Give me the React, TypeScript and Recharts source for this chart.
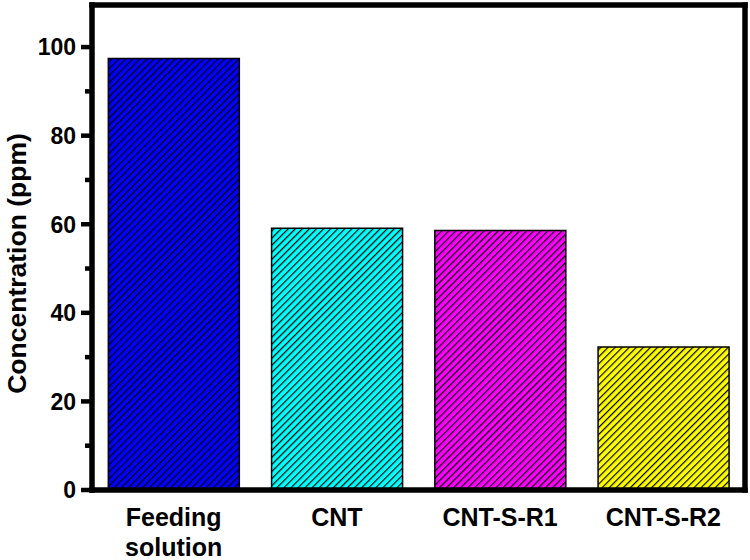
import React from "react";
import { Bar, BarChart, Cell, XAxis, YAxis } from "recharts";

const categories = ["Feeding\nsolution", "CNT", "CNT-S-R1", "CNT-S-R2"];
const concentrations = [97.4, 59.1, 58.6, 32.3];
const barColors = ["#0000ff", "#00ffff", "#ff00ff", "#ffff00"];
const yTicks = [0, 10, 20, 30, 40, 50, 60, 70, 80, 90, 100];

const data = categories.map((name, i) => ({ name, value: concentrations[i] }));

const FONT = '"Liberation Sans", Arial, Helvetica, sans-serif';
const frameLine = { stroke: "#000", strokeWidth: 5.5, strokeLinecap: "square" as const };

function XTick({ x, y, payload }: any) {
  const lines = String(payload.value).split("\n");
  return (
    <text
      x={x}
      y={y + 36}
      textAnchor="middle"
      fontFamily={FONT}
      fontWeight="bold"
      fontSize={25}
      fill="#000"
      stroke="none"
    >
      {lines.map((l, i) => (
        <tspan key={i} x={x} dy={i === 0 ? 0 : 30}>
          {l}
        </tspan>
      ))}
    </text>
  );
}

function YTick({ x, y, payload }: any) {
  const major = payload.value % 20 === 0;
  return (
    <g>
      <line x1={x - (major ? 11 : 7)} x2={x} y1={y} y2={y} stroke="#000" strokeWidth={4.5} />
      {major && (
        <text
          x={x - 16}
          y={y}
          dy="0.36em"
          textAnchor="end"
          fontFamily={FONT}
          fontWeight="bold"
          fontSize={23}
          fill="#000"
          stroke="none"
        >
          {payload.value}
        </text>
      )}
    </g>
  );
}

export default function App() {
  return (
    <div style={{ position: "absolute", left: 0, top: 0, width: 750, height: 560, background: "#fff" }}>
      <BarChart
        width={750}
        height={560}
        data={data}
        margin={{ top: 4, right: 4, bottom: 0, left: 0 }}
        barCategoryGap="10%"
      >
        <defs>
          {barColors.map((c, i) => (
            <pattern
              key={i}
              id={`hatch-${i}`}
              patternUnits="userSpaceOnUse"
              width={5}
              height={5}
              patternTransform="rotate(45)"
            >
              <rect x={0} y={0} width={5} height={5} fill={c} />
              <line x1={0.6} y1={0} x2={0.6} y2={5} stroke="#000" strokeWidth={1.2} />
            </pattern>
          ))}
        </defs>
        <XAxis
          dataKey="name"
          height={70}
          stroke="#000"
          strokeWidth={5.5}
          axisLine={frameLine}
          tickLine={false}
          tickSize={0}
          tickMargin={0}
          tick={<XTick />}
          interval={0}
        />
        <XAxis
          xAxisId="top"
          dataKey="name"
          orientation="top"
          height={1}
          stroke="#000"
          strokeWidth={5.5}
          axisLine={frameLine}
          tickLine={false}
          tick={false}
        />
        <YAxis
          type="number"
          domain={[0, 109.5]}
          allowDataOverflow
          ticks={yTicks}
          interval={0}
          width={92}
          tickSize={0}
          tickMargin={0}
          stroke="#000"
          strokeWidth={5.5}
          axisLine={frameLine}
          tickLine={false}
          tick={<YTick />}
          label={(props: any) => {
            const vb = props.viewBox || {};
            const cy = (vb.y ?? 5) + (vb.height ?? 485) / 2 + 16;
            return (
              <text
                x={26}
                y={cy}
                transform={`rotate(-90, 26, ${cy})`}
                textAnchor="middle"
                fontFamily={FONT}
                fontWeight="bold"
                fontSize={26.5}
                fill="#000"
                stroke="none"
              >
                Concentration (ppm)
              </text>
            );
          }}
        />
        <YAxis
          yAxisId="right"
          orientation="right"
          type="number"
          domain={[0, 109.5]}
          width={1}
          stroke="#000"
          strokeWidth={5.5}
          axisLine={frameLine}
          tickLine={false}
          tick={false}
        />
        <Bar dataKey="value" isAnimationActive={false} stroke="#000" strokeWidth={1.5}>
          {data.map((_, i) => (
            <Cell key={i} fill={`url(#hatch-${i})`} stroke="#000" strokeWidth={1.5} />
          ))}
        </Bar>
      </BarChart>
    </div>
  );
}
